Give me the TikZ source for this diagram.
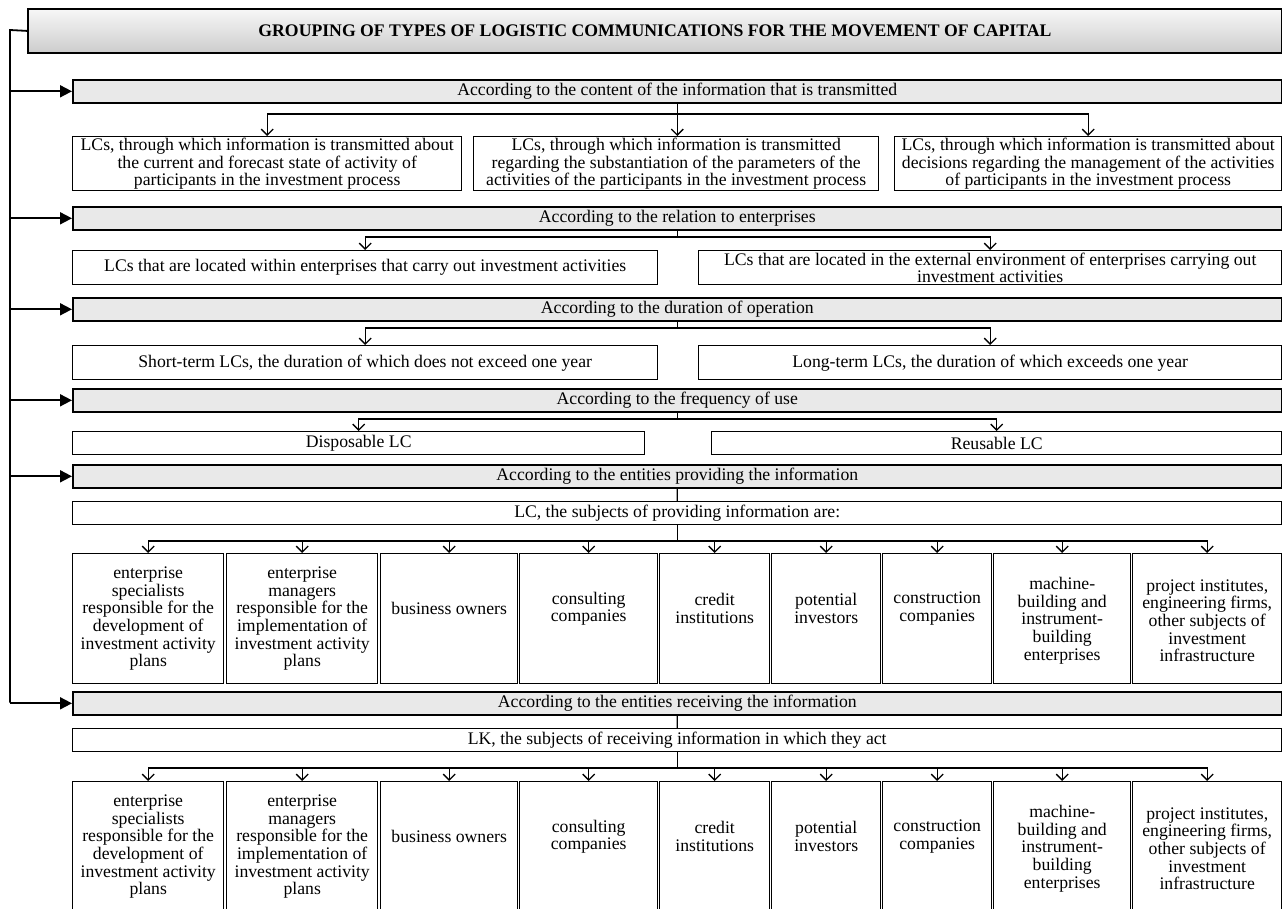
\documentclass[tikz,border=0pt]{standalone}
\usepackage{fontspec}
\setmainfont{Liberation Serif}
\usetikzlibrary{arrows.meta}
\tikzset{
  every node/.style={font=\fontsize{17.7}{17.6}\selectfont},
  box/.style={draw, line width=1.4pt, fill=white, inner sep=0pt, align=center, anchor=north west},
  bar/.style={draw, line width=1.6pt, fill=gray!17, inner sep=0pt, align=center, anchor=north west, minimum width=1209pt, minimum height=23pt},
  head/.style={draw, line width=1.8pt, top color=gray!6, bottom color=gray!40, inner sep=0pt, align=center, anchor=north west},
  conn/.style={line width=1.3pt, -{Straight Barb[length=6pt,width=12pt,line width=1.3pt]}},
  plain/.style={line width=1.3pt},
  trunk/.style={line width=1.8pt},
  side/.style={line width=1.8pt, -{Triangle[length=12pt,width=12pt]}},
  lbl/.style={inner sep=0pt, align=center}
}
\begin{document}
\begin{tikzpicture}[x=1pt,y=-1pt]
\useasboundingbox (0,0) rectangle (1282,908);
% header
\node[head, minimum width=1254pt, minimum height=44pt] (H) at (27,8)
  {\bfseries GROUPING OF TYPES OF LOGISTIC COMMUNICATIONS FOR THE MOVEMENT OF CAPITAL};
% bars
\node[bar] (c1) at (72,79) {According to the content of the information that is transmitted};
\node[bar] (c2) at (72,206) {According to the relation to enterprises};
\node[bar] (c3) at (72,297) {According to the duration of operation};
\node[bar] (c4) at (72,388) {According to the frequency of use};
\node[bar] (c5) at (72,464) {According to the entities providing the information};
\node[bar] (c6) at (72,691) {According to the entities receiving the information};
% trunk
\coordinate (t0) at (10,30);
\coordinate (t6) at (10,702.5);
\draw[trunk] (H.west) -- (t0) -- (t6);
\foreach \c in {c1,c2,c3,c4,c5,c6}{ \draw[side] (t0 |- \c.west) -- (\c.west); }
% row coordinates
\coordinate (r1) at (0,114);
\coordinate (r2) at (0,237);
\coordinate (r3) at (0,328);
\coordinate (r4) at (0,419);
\coordinate (r5) at (0,541);
\coordinate (r6) at (0,768);
% row 1
\node[box, minimum width=389pt, minimum height=54pt] (b11) at (72,136)
  {LCs, through which information is transmitted about\\the current and forecast state of activity of\\participants in the investment process};
\node[box, minimum width=405pt, minimum height=54pt] (b12) at (473,136)
  {LCs, through which information is transmitted\\regarding the substantiation of the parameters of the\\activities of the participants in the investment process};
\node[box, minimum width=387pt, minimum height=54pt] (b13) at (894,136)
  {LCs, through which information is transmitted about\\decisions regarding the management of the activities\\of participants in the investment process};
\draw[plain] (c1.south) -- (c1.south |- r1);
\draw[conn] (c1.south |- r1) -| (b11.north);
\draw[conn] (c1.south |- r1) -| (b13.north);
\draw[conn] (c1.south |- r1) -- (c1.south |- b12.north);
% row 2
\node[box, minimum width=585pt, minimum height=34pt] (b21) at (72,250)
  {LCs that are located within enterprises that carry out investment activities};
\node[box, minimum width=583pt, minimum height=34pt] (b22) at (698,250)
  {LCs that are located in the external environment of enterprises carrying out\\investment activities};
\draw[plain] (c2.south) -- (c2.south |- r2);
\draw[conn] (c2.south |- r2) -| (b21.north);
\draw[conn] (c2.south |- r2) -| (b22.north);
% row 3
\node[box, minimum width=585pt, minimum height=34pt] (b31) at (72,345)
  {Short-term LCs, the duration of which does not exceed one year};
\node[box, minimum width=583pt, minimum height=34pt] (b32) at (698,345)
  {Long-term LCs, the duration of which exceeds one year};
\draw[plain] (c3.south) -- (c3.south |- r3);
\draw[conn] (c3.south |- r3) -| (b31.north);
\draw[conn] (c3.south |- r3) -| (b32.north);
% row 4
\node[box, minimum width=572pt, minimum height=23pt] (b41) at (72,431) {Disposable LC};
\node[box, minimum width=570pt, minimum height=23pt] (b42) at (711,431) {Reusable LC};
\draw[plain] (c4.south) -- (c4.south |- r4);
\draw[conn] (c4.south |- r4) -| (b41.north);
\draw[conn] (c4.south |- r4) -| (b42.north);
% row 5
\node[box, minimum width=1209pt, minimum height=23pt] (L5) at (72,501) {LC, the subjects of providing information are:};
\node[box, minimum width=1209pt, minimum height=23pt] (L6) at (72,728) {LK, the subjects of receiving information in which they act};
\draw[plain] (c5.south) -- (L5.north);
\draw[plain] (c6.south) -- (L6.north);
\draw[plain] (L5.south) -- (L5.south |- r5);
\draw[plain] (L6.south) -- (L6.south |- r6);
% column boxes
\foreach \row/\yy/\rr in {p/553/r5, q/781/r6}{
  \foreach \n/\xa/\w in {1/72/151, 2/226/151, 3/380/137, 4/519/138, 5/659/110, 6/771/109, 7/882/109, 8/993/137, 9/1132/149}{
    \node[box, minimum width=\w pt, minimum height=130pt] (\row\n) at (\xa,\yy) {};
    \draw[conn] (L5.south |- \rr) -| (\row\n.north);
  }
  \node[lbl] (\row t1) at (\row1.center) {enterprise\\specialists\\responsible for the\\development of\\investment activity\\plans};
  \node[lbl] (\row t2) at (\row2.center) {enterprise\\managers\\responsible for the\\implementation of\\investment activity\\plans};
  \node[lbl] (\row t3) at ([yshift=10pt]\row3.center) {business owners};
  \node[lbl] (\row t4) at ([yshift=10pt]\row4.center) {consulting\\companies};
  \node[lbl] (\row t5) at ([yshift=10pt]\row5.center) {credit\\institutions};
  \node[lbl] (\row t6) at ([yshift=10pt]\row6.center) {potential\\investors};
  \node[lbl] (\row t7) at ([yshift=10pt]\row7.center) {construction\\companies};
  \node[lbl] (\row t8) at ([yshift=-2pt]\row8.center) {machine-\\building and\\instrument-\\building\\enterprises};
  \node[lbl] (\row t9) at ([yshift=-2pt]\row9.center) {project institutes,\\engineering firms,\\other subjects of\\investment\\infrastructure};
}
\end{tikzpicture}
\end{document}
